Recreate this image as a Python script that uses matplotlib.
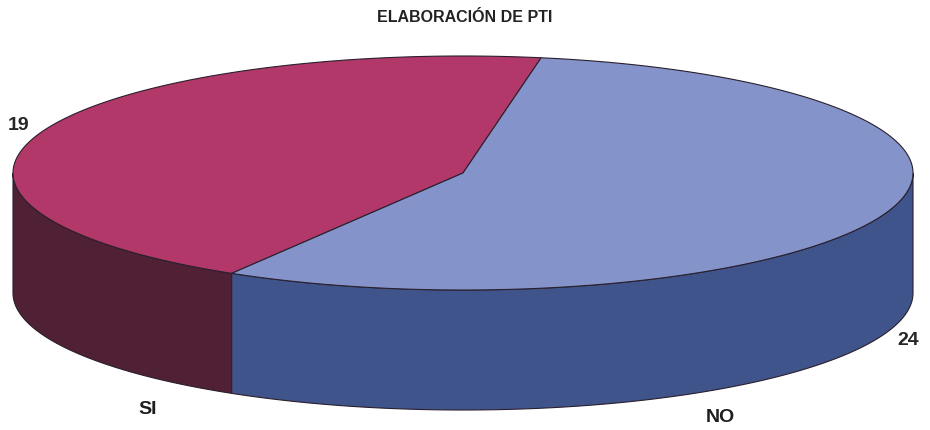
import numpy as np
import matplotlib
matplotlib.use('Agg')
import matplotlib.pyplot as plt
from matplotlib.patches import Polygon

plt.rcParams['font.family'] = ['Liberation Sans', 'DejaVu Sans']

title = 'ELABORACIÓN DE PTI'
labels = ['SI', 'NO']
values = [19, 24]
top_colors = ['#B2386A', '#8494CA']
side_colors = ['#502034', '#40548C']

# layout of the 3d pie, in figure pixels (y up)
cx, cy = 463, 257
rx, ry = 450, 117
depth = 120
start = 80.0  # degrees, counter-clockwise
edge = '#2a1f2e'

fig = plt.figure(figsize=(9.3, 4.3), dpi=100)
ax = fig.add_axes([0, 0, 1, 1])
ax.set_xlim(0, 930)
ax.set_ylim(0, 430)
ax.axis('off')

def arc(a0, a1, dy=0.0, n=200):
    t = np.radians(np.linspace(a0, a1, n))
    return np.column_stack([cx + rx*np.cos(t), cy + ry*np.sin(t) - dy])

fracs = np.array(values) / np.sum(values)
bounds = start + np.concatenate([[0], np.cumsum(fracs)*360])

# side walls (front half only, 180..360)
for i in range(len(values)):
    a0, a1 = bounds[i], bounds[i+1]
    for k in (0, 360):
        lo = max(a0, 180 + k)
        hi = min(a1, 360 + k)
        if hi > lo:
            top = arc(lo, hi)
            bot = arc(hi, lo, dy=depth)
            ax.add_patch(Polygon(np.vstack([top, bot]), closed=True,
                                 facecolor=side_colors[i], edgecolor=edge,
                                 lw=0.8, zorder=1))

# top faces
for i in range(len(values)):
    pts = np.vstack([[cx, cy], arc(bounds[i], bounds[i+1])])
    ax.add_patch(Polygon(pts, closed=True, facecolor=top_colors[i],
                         edgecolor=edge, lw=0.8, zorder=2))

# value labels
for i, v in enumerate(values):
    mid = np.radians((bounds[i] + bounds[i+1]) / 2)
    x = cx + rx*1.055*np.cos(mid)
    y = cy + ry*1.15*np.sin(mid)
    if np.sin(mid) < 0:
        y -= depth
    ax.text(x, y, str(v), fontsize=14, fontweight='bold', color='#262626',
            ha='center', va='center')

# category labels under the pie
cat_pos = [(148, 20), (720, 12)]
for lab, (x, y) in zip(labels, cat_pos):
    ax.text(x, y, lab, fontsize=14, fontweight='bold', color='#1e1e1e',
            ha='center', va='center')

ax.text(465, 412, title, fontsize=11.5, fontweight='bold', color='#222222',
        ha='center', va='center')

fig.savefig('out.png', dpi=100)
